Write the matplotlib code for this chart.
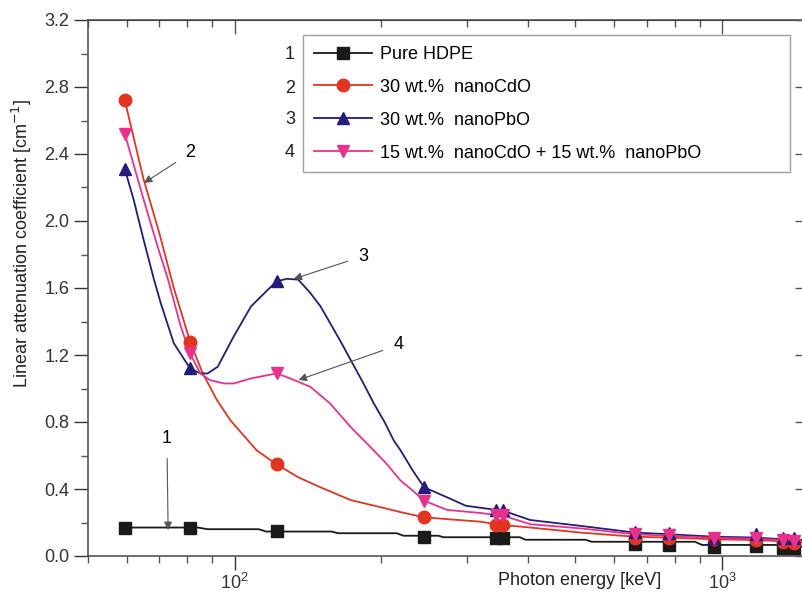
import matplotlib
matplotlib.use("Agg")
import matplotlib.pyplot as plt
from matplotlib.ticker import MultipleLocator, NullFormatter

plt.rcParams['font.family'] = ['Liberation Sans', 'DejaVu Sans']

# marker energies (keV)
e_mark = [59.5, 81, 122, 244.7, 344.3, 356, 661.7, 778.9, 964, 1173, 1332, 1408]

# marker values (cm^-1)
hdpe_mark = [0.17, 0.165, 0.15, 0.115, 0.108, 0.108, 0.07, 0.066, 0.056, 0.062, 0.048, 0.048]
cdo_mark = [2.72, 1.28, 0.547, 0.231, 0.185, 0.185, 0.11, 0.105, 0.10, 0.095, 0.082, 0.08]
pbo_mark = [2.31, 1.12, 1.64, 0.41, 0.275, 0.275, 0.145, 0.135, 0.11, 0.13, 0.11, 0.11]
mix_mark = [2.52, 1.21, 1.09, 0.33, 0.245, 0.245, 0.13, 0.125, 0.11, 0.105, 0.095, 0.09]

# curves
e_hdpe = [59.5, 84, 88, 112, 116, 158, 163, 215, 222, 262, 268, 385, 395, 525,
          540, 880, 910, 1290, 1320, 1480]
v_hdpe = [0.17, 0.17, 0.16, 0.16, 0.146, 0.146, 0.136, 0.136, 0.121, 0.121, 0.112,
          0.112, 0.097, 0.097, 0.085, 0.085, 0.066, 0.066, 0.055, 0.055]

e_cdo = [59.5, 65, 70, 75, 81, 86, 92, 98, 105, 111, 122, 135, 150, 173, 200, 219,
         244.7, 273, 319, 344.3, 356, 404, 512, 661.7, 778.9, 964, 1173, 1332, 1408, 1480]
v_cdo = [2.72, 2.25, 1.93, 1.6, 1.28, 1.09, 0.93, 0.81, 0.71, 0.63, 0.547, 0.47, 0.41,
         0.334, 0.29, 0.262, 0.231, 0.22, 0.205, 0.19, 0.185, 0.17, 0.14, 0.115, 0.11,
         0.10, 0.095, 0.088, 0.085, 0.083]

e_pbo = [59.5, 62, 65, 68.3, 70.5, 75, 81, 85, 88, 92.3, 99.5, 108, 117, 122, 128,
         135, 143, 150, 157, 165, 173, 183, 193, 203, 212, 219, 232, 244.7, 273, 298,
         344.3, 356, 404, 512, 661.7, 778.9, 964, 1173, 1332, 1408, 1480]
v_pbo = [2.31, 2.13, 1.89, 1.65, 1.51, 1.27, 1.12, 1.09, 1.09, 1.13, 1.31, 1.49, 1.59,
         1.64, 1.655, 1.65, 1.57, 1.49, 1.39, 1.28, 1.17, 1.04, 0.91, 0.80, 0.69, 0.63,
         0.51, 0.41, 0.35, 0.30, 0.275, 0.27, 0.215, 0.18, 0.14, 0.13, 0.115, 0.11, 0.1,
         0.098, 0.095]

e_mix = [59.5, 65, 69.6, 73, 77.5, 81, 85, 89, 95, 99.5, 108, 117, 122, 130, 143, 157,
         173, 190, 205, 219, 232, 244.7, 273, 319, 344.3, 356, 404, 512, 661.7, 778.9,
         964, 1173, 1332, 1408, 1480]
v_mix = [2.52, 2.13, 1.84, 1.65, 1.37, 1.21, 1.09, 1.05, 1.03, 1.03, 1.06, 1.08, 1.09,
         1.06, 1.01, 0.91, 0.77, 0.65, 0.55, 0.45, 0.39, 0.33, 0.275, 0.257, 0.245, 0.24,
         0.19, 0.165, 0.13, 0.12, 0.108, 0.103, 0.095, 0.092, 0.09]

labels = ["Pure HDPE", "30 wt.%  nanoCdO", "30 wt.%  nanoPbO",
          "15 wt.%  nanoCdO + 15 wt.%  nanoPbO"]
colors = ['#1a1a1a', '#e2351f', '#241c7c', '#e8318e']
markers = ['s', 'o', '^', 'v']

fig = plt.figure(figsize=(8.02, 5.94), dpi=100)
ax = fig.add_axes([88 / 802, 38 / 594, 717 / 802, 536 / 594])

curves = [(e_hdpe, v_hdpe, hdpe_mark), (e_cdo, v_cdo, cdo_mark),
          (e_pbo, v_pbo, pbo_mark), (e_mix, v_mix, mix_mark)]
handles = []
for (ec, vc, vm), c, m, lab in zip(curves, colors, markers, labels):
    ax.plot(ec, vc, color=c, lw=1.3, zorder=2)
    ax.plot(e_mark, vm, ls='none', marker=m, ms=9, color=c, zorder=3)
    h, = ax.plot([], [], color=c, lw=1.3, marker=m, ms=9, label=lab)
    handles.append(h)

ax.set_xscale('log')
ax.set_xlim(50, 1480)
ax.set_ylim(0, 3.2)
ax.yaxis.set_major_locator(MultipleLocator(0.4))
ax.yaxis.set_minor_locator(MultipleLocator(0.2))
ax.yaxis.set_major_formatter(matplotlib.ticker.FormatStrFormatter('%.1f'))
ax.xaxis.set_minor_formatter(NullFormatter())
ax.tick_params(which='major', direction='out', length=10, width=1, labelsize=13,
               colors='#333333', top=False, right=False)
ax.tick_params(which='minor', direction='out', length=5, width=1,
               colors='#555555', top=False, right=False)
ax.tick_params(axis='x', pad=2)

for s in ax.spines.values():
    s.set_color('#555555')
    s.set_linewidth(1.2)

# inward ticks on top and right
top = ax.secondary_xaxis('top')
top.tick_params(which='major', direction='in', length=10, width=1, colors='#555555',
                labeltop=False)
top.tick_params(which='minor', direction='in', length=5, width=1, colors='#555555')
top.xaxis.set_minor_formatter(NullFormatter())
right = ax.secondary_yaxis('right')
right.yaxis.set_major_locator(MultipleLocator(0.4))
right.tick_params(direction='in', length=7, width=1, colors='#555555', labelright=False)

ax.text(-0.092, 0.584, 'Linear attenuation coefficient [cm$^{-1}$]', rotation=90,
        transform=ax.transAxes, ha='center', va='center', fontsize=13, color='#222222')
ax.text(0.686, -0.045, 'Photon energy [keV]', transform=ax.transAxes,
        ha='center', va='center', fontsize=13, color='#222222')

leg = ax.legend(handles=handles, loc='upper left', mode='expand',
                bbox_to_anchor=(0.2999, 0.7276, 0.679, 0.2444), borderaxespad=0,
                fontsize=13, handlelength=3.2, handletextpad=0.45, labelspacing=0.88,
                borderpad=0.6, fancybox=False, frameon=True)
leg.get_frame().set_edgecolor('#888888')
leg.get_frame().set_linewidth(1.0)

# series numbers left of the legend box
for i, ty in enumerate([0.935, 0.873, 0.815, 0.752]):
    ax.text(0.2817, ty, str(i + 1), transform=ax.transAxes, ha='center', va='center',
            fontsize=13, color='#222222')

arrow = dict(arrowstyle='-|>', color='#555555', lw=0.8, mutation_scale=12,
             shrinkA=6, shrinkB=0)
ax.annotate('2', xy=(65.1, 2.227), xytext=(81.2, 2.406), fontsize=13,
            ha='center', va='center', arrowprops=arrow)
ax.annotate('3', xy=(132.1, 1.654), xytext=(183.8, 1.791), fontsize=13,
            ha='center', va='center', arrowprops=arrow)
ax.annotate('4', xy=(135.2, 1.051), xytext=(216.8, 1.26), fontsize=13,
            ha='center', va='center', arrowprops=arrow)
ax.annotate('1', xy=(73, 0.155), xytext=(72.6, 0.699), fontsize=13,
            ha='center', va='center', arrowprops=arrow)

fig.savefig('out.png', dpi=100)
